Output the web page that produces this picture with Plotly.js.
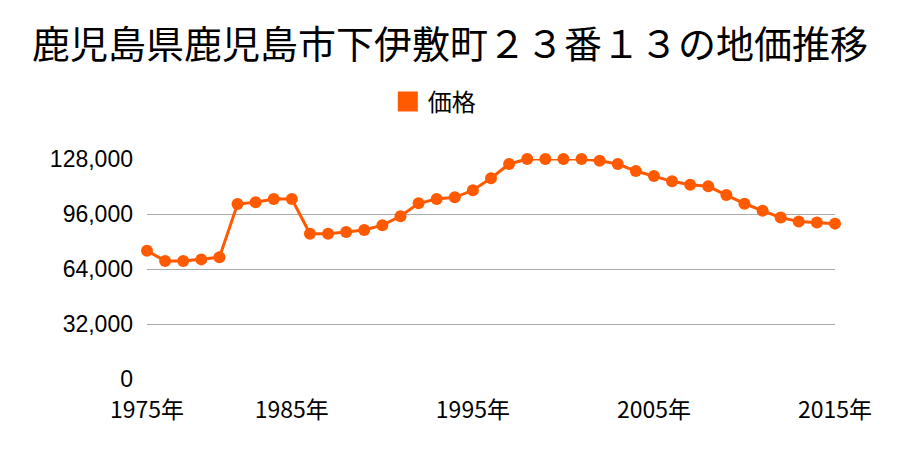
<!DOCTYPE html>
<html>
<head>
<meta charset="utf-8">
<script src="https://cdn.plot.ly/plotly-3.0.1.min.js"></script>
<style>html,body{margin:0;padding:0;background:#fff;}#chart{width:900px;height:450px;}</style>
</head>
<body>
<div id="chart"></div>
<script>
var years = ["1975","1978","1979","1980","1981","1982","1983","1984","1985","1986","1987","1988","1989","1990","1991","1992","1993","1994","1995","1996","1997","1998","1999","2000","2001","2002","2003","2004","2005","2006","2007","2008","2009","2010","2011","2012","2013","2014","2015"];
var prices = [74600,68700,68700,69600,70800,101800,102800,104700,104700,84500,84500,85500,86700,89500,94700,102200,104700,105700,109800,116800,125100,128000,128000,128000,128000,127000,125100,121000,118100,115000,113000,112100,107000,102000,97900,93900,91700,91000,90400];
var tickYears = ["1975","1985","1995","2005","2015"];
var tickLabels = ["1975年","1985年","1995年","2005年","2015年"];
var yTicks = [0,32000,64000,96000,128000];
var yTickLabels = ["0","32,000","64,000","96,000","128,000"];
var seriesName = "価格";
var color = "#FF5A00";
var font = "'Noto Sans CJK JP', 'Noto Sans', sans-serif";
var numFont = "'Liberation Sans', Arial, sans-serif";

var traces = [
  {type:"scatter", mode:"lines+markers", x:years, y:prices, name:seriesName, showlegend:false,
   line:{color:color, width:3}, marker:{color:color, size:12}, cliponaxis:false},
  {type:"scatter", mode:"markers", x:[null], y:[null], name:seriesName, showlegend:true,
   marker:{color:color, size:16, symbol:"square", line:{color:color, width:4}}}
];
var layout = {
  width:900, height:450,
  margin:{l:147, r:65, t:159, b:71},
  paper_bgcolor:"#fff", plot_bgcolor:"#fff",
  font:{family:font, color:"#000", size:24},
  title:{text:"鹿児島県鹿児島市下伊敷町２３番１３の地価推移", font:{family:font, size:38, color:"#000"}, x:0.5, xanchor:"center", y:0.9, yanchor:"middle", yref:"container"},
  showlegend:true,
  legend:{orientation:"h", x:0.35, xanchor:"left", y:1.26, yanchor:"middle", font:{size:24}},
  xaxis:{type:"category", range:[0,38], tickmode:"array", tickvals:tickYears, ticktext:tickLabels, showgrid:false, zeroline:false, showline:false, ticks:"", ticklabelstandoff:15, tickfont:{size:23}},
  yaxis:{range:[0,128000], tickmode:"array", tickvals:yTicks, ticktext:yTickLabels, showgrid:true, gridcolor:"#aaaaaa", gridwidth:1, zeroline:false, showline:false, ticks:"", ticklabelstandoff:13, tickfont:{size:23, family:numFont}}
};
Plotly.newPlot("chart", traces, layout, {displayModeBar:false, staticPlot:true});
</script>
</body>
</html>
